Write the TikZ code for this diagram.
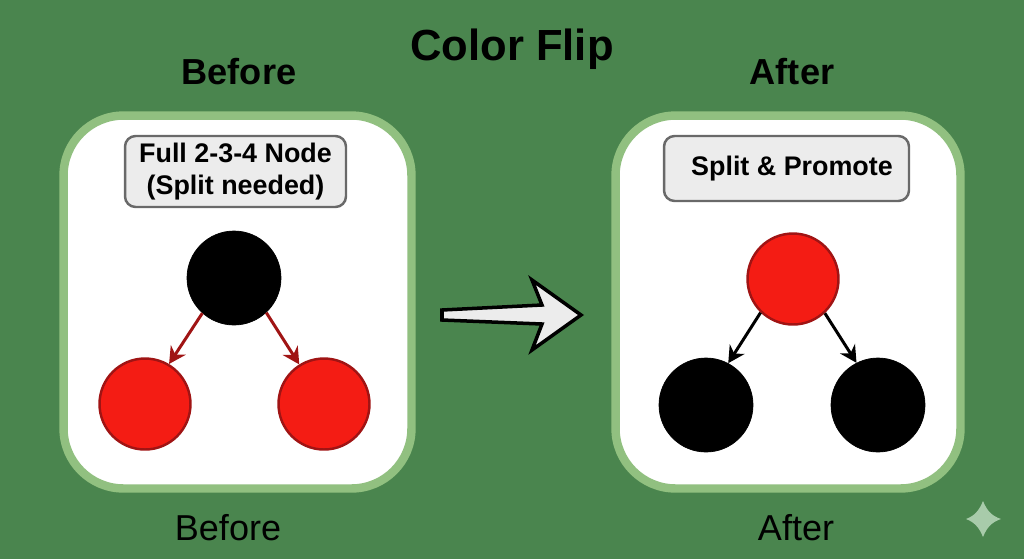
\documentclass[tikz,border=0pt]{standalone}
\usepackage{fontspec}
\setmainfont{Liberation Sans}
\usetikzlibrary{arrows.meta}
\definecolor{flipgreen}{RGB}{74,133,78}
\definecolor{panelgreen}{RGB}{145,192,128}
\definecolor{flipred}{RGB}{244,28,20}
\definecolor{darkred}{RGB}{160,20,20}
\definecolor{notegray}{RGB}{236,236,236}
\definecolor{noteedge}{RGB}{105,105,105}
\definecolor{sparkle}{RGB}{168,203,170}
\tikzset{
  panel/.style={draw=panelgreen,fill=white,line width=4.8pt,rounded corners=1.2cm,minimum height=7.46cm},
  note/.style={draw=noteedge,fill=notegray,line width=1.4pt,rounded corners=6pt,align=center,font=\fontsize{15.3}{18.2}\selectfont\bfseries},
  rednode/.style={circle,draw=darkred,fill=flipred,line width=1.4pt,minimum size=1.82cm,inner sep=0pt},
  blacknode/.style={circle,draw=black,fill=black,minimum size=1.88cm,inner sep=0pt},
  heading/.style={font=\fontsize{20.6}{24}\selectfont\bfseries},
  caption/.style={font=\fontsize{20.5}{24}\selectfont},
  link/.style={-{Stealth[length=9.5pt,width=10pt]},line width=1.7pt}
}
\begin{document}
\begin{tikzpicture}[x=0.02cm,y=-0.02cm]
  \fill[flipgreen] (0,0) rectangle (1024,559);
  \useasboundingbox (0,0) rectangle (1024,559);
  \node[font=\fontsize{24.8}{28}\selectfont\bfseries] (title) at (512,49) {Color Flip};
  \node[heading] (headbefore) at (239,72) {Before};
  \node[heading] (headafter) at (792,72) {After};
  \node[panel,minimum width=6.96cm] (panelbefore) at (237.5,302) {};
  \node[panel,minimum width=6.9cm] (panelafter) at (788,302) {};
  \node[note,minimum width=4.42cm,minimum height=1.42cm] (notebefore) at (235.5,171.5) {Full 2-3-4 Node\\(Split needed)};
  \node[note,minimum width=4.9cm,minimum height=1.3cm] (noteafter) at (786.5,168.5) {\hspace*{.22cm}Split \& Promote};
  % before tree
  \node[blacknode] (top1) at (234,278) {};
  \node[rednode] (left1) at (145,404) {};
  \node[rednode] (right1) at (324,404) {};
  \draw[link,darkred] (top1.228) -- (left1.59);
  \draw[link,darkred] (top1.313) -- (right1.122);
  % after tree
  \node[rednode] (top2) at (793,279) {};
  \node[blacknode] (left2) at (706,405) {};
  \node[blacknode] (right2) at (878,405) {};
  \draw[link,black] (top2.226) -- (left2.62);
  \draw[link,black] (top2.313) -- (right2.117);
  \node[caption] (capbefore) at (228,528) {Before};
  \node[caption] (capafter) at (796,528) {After};
  % big arrow
  \draw[draw=black,fill=notegray,line width=2pt,line join=miter]
    (442,310) -- (542,305) -- (532,280) -- (581,315) -- (532,350) -- (542,324) -- (442,320) -- cycle;
  % corner mark
  \fill[sparkle] (983,501) .. controls (987,511) and (992,516) .. (1001,519)
    .. controls (992,522) and (987,527) .. (983,537)
    .. controls (979,527) and (974,522) .. (966,519)
    .. controls (974,516) and (979,511) .. (983,501) -- cycle;
\end{tikzpicture}
\end{document}
